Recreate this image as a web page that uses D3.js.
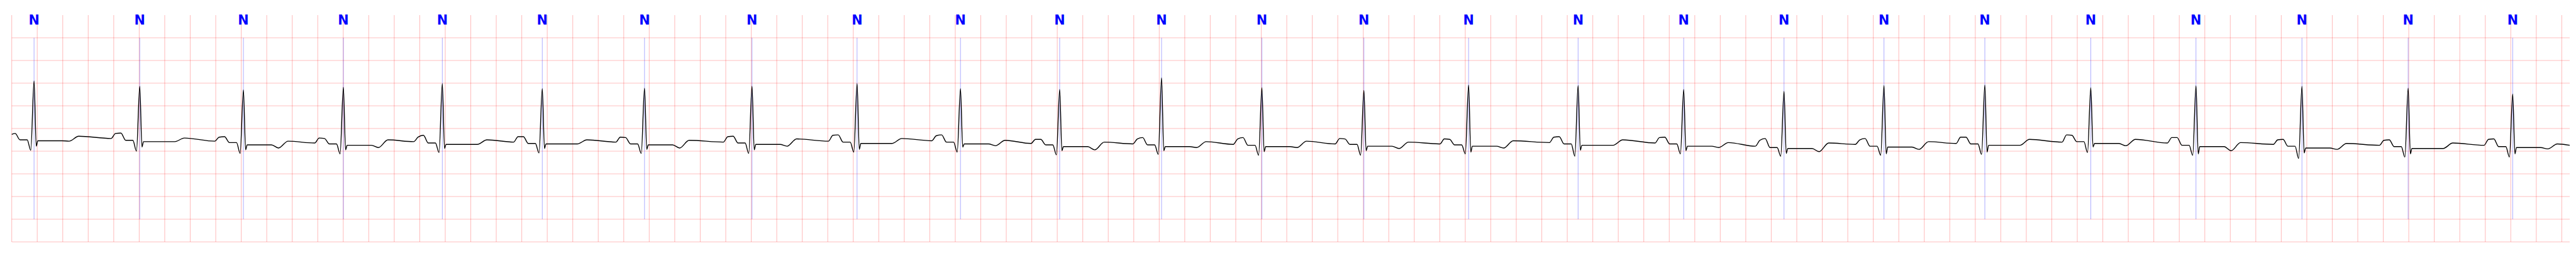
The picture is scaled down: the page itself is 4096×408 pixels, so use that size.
<!DOCTYPE html>
<html>
<head>
<meta charset="utf-8">
<script src="https://cdn.jsdelivr.net/npm/d3@7"></script>
<style>
html,body{margin:0;padding:0;background:#fff;overflow:hidden;}
svg{display:block;}
</style>
</head>
<body>
<svg id="chart" width="4096" height="408"></svg>
<script>
// ---- data (time in s, amplitude in mV) ----
const beatTimes = [0.175, 1.004, 1.817, 2.601, 3.377, 4.161, 4.963, 5.806, 6.630, 7.441, 8.219, 9.018, 9.805, 10.605, 11.426, 12.285, 13.113, 13.900, 14.684, 15.475, 16.306, 17.131, 17.962, 18.795, 19.615];
const beatLabels = Array(25).fill("N");
const rPeak   = [1.05, 0.93, 0.85, 0.91, 0.99, 0.88, 0.89, 0.93, 0.99, 0.88, 0.86, 1.12, 0.90, 0.84, 0.96, 0.95, 0.86, 0.82, 0.95, 0.96, 0.90, 0.94, 0.93, 0.89, 0.76];
const qTrough = [-0.48, -0.50, -0.55, -0.56, -0.53, -0.54, -0.55, -0.55, -0.52, -0.52, -0.58, -0.57, -0.59, -0.59, -0.56, -0.61, -0.56, -0.61, -0.59, -0.57, -0.53, -0.59, -0.66, -0.63, -0.63];
const sTrough = [-0.39, -0.41, -0.47, -0.47, -0.44, -0.44, -0.46, -0.47, -0.46, -0.41, -0.49, -0.49, -0.51, -0.49, -0.52, -0.48, -0.49, -0.55, -0.56, -0.52, -0.41, -0.56, -0.54, -0.56, -0.56];
const stLevel = [-0.27, -0.29, -0.36, -0.37, -0.35, -0.34, -0.36, -0.35, -0.33, -0.34, -0.40, -0.40, -0.40, -0.39, -0.39, -0.37, -0.39, -0.44, -0.41, -0.37, -0.33, -0.40, -0.43, -0.44, -0.42];
const preT    = [-0.28, -0.29, -0.43, -0.42, -0.35, -0.34, -0.43, -0.39, -0.33, -0.38, -0.47, -0.42, -0.42, -0.44, -0.43, -0.37, -0.42, -0.51, -0.46, -0.37, -0.38, -0.49, -0.46, -0.44, -0.45];
const tPeak   = [-0.17, -0.21, -0.28, -0.25, -0.25, -0.25, -0.26, -0.23, -0.22, -0.26, -0.30, -0.29, -0.28, -0.30, -0.27, -0.25, -0.31, -0.32, -0.29, -0.24, -0.24, -0.31, -0.33, -0.32, -0.34];
const tEnd    = [-0.22, -0.28, -0.32, -0.29, -0.30, -0.30, -0.30, -0.28, -0.27, -0.33, -0.34, -0.35, -0.34, -0.34, -0.31, -0.32, -0.39, -0.35, -0.33, -0.30, -0.32, -0.35, -0.37, -0.37, -0.37];
const pPeak   = [-0.13, -0.11, -0.19, -0.21, -0.19, -0.18, -0.19, -0.18, -0.15, -0.16, -0.24, -0.23, -0.23, -0.22, -0.23, -0.19, -0.20, -0.26, -0.25, -0.19, -0.14, -0.20, -0.25, -0.26, -0.24];
const pSpike  = [-0.11, -0.10, -0.18, -0.22, -0.15, -0.18, -0.20, -0.17, -0.14, -0.14, -0.24, -0.20, -0.20, -0.23, -0.24, -0.18, -0.19, -0.22, -0.22, -0.19, -0.15, -0.20, -0.24, -0.25, -0.23];
const prLevel = [-0.25, -0.26, -0.31, -0.34, -0.32, -0.33, -0.34, -0.32, -0.30, -0.30, -0.36, -0.36, -0.37, -0.35, -0.36, -0.34, -0.34, -0.42, -0.39, -0.34, -0.29, -0.37, -0.39, -0.40, -0.40];
// wave landmark times relative to each R peak (s)
const waveOffsets = {pOn: -0.225, pTop: -0.19, pTick: -0.148, pDown: -0.11, qrsOn: -0.054, q: -0.0255, s: 0.0174, st: 0.0295, stEnd: 0.22, dip: 0.275, tTop: 0.35};
const timeDomain = [0, 20.062];
const ampDomain = [-2.5, 2.5];
const gridTimes = d3.range(0, 20.0001, 0.2);
const gridAmps = d3.range(-2.5, 2.0001, 0.5);

// ---- build trace vertices from the landmark tables ----
const trace = [];
const o = waveOffsets;
beatTimes.forEach((R, i) => {
  if (i > 0) trace.push([R + o.pOn, tEnd[i - 1]]);
  trace.push([Math.max(timeDomain[0], R + o.pTop), pPeak[i]]);
  trace.push([R + o.pTick, pSpike[i]]);
  trace.push([R + o.pDown, prLevel[i]]);
  trace.push([R + o.qrsOn, prLevel[i]]);
  trace.push([R + o.q, qTrough[i]]);
  trace.push([R, rPeak[i]]);
  trace.push([R + o.s, sTrough[i]]);
  trace.push([R + o.st, stLevel[i]]);
  trace.push([R + o.stEnd, stLevel[i]]);
  trace.push([R + o.dip, preT[i]]);
  trace.push([R + o.tTop, tPeak[i]]);
});
trace.push([timeDomain[1], tEnd[tEnd.length - 1]]);

// ---- layout ----
const SC = 0.544;
const plotLeft = 34.3 * SC, plotRight = 7511 * SC, plotTop = 44 * SC, plotBottom = 706 * SC;
const x = d3.scaleLinear().domain(timeDomain).range([plotLeft, plotRight]);
const y = d3.scaleLinear().domain(ampDomain).range([plotBottom, plotTop]);

const svg = d3.select("#chart");

const grid = svg.append("g");
grid.selectAll("line.v").data(gridTimes).join("line").attr("class", "v")
  .attr("x1", d => x(d)).attr("x2", d => x(d))
  .attr("y1", y(ampDomain[1])).attr("y2", y(ampDomain[0]))
  .attr("stroke", "#ff0000").attr("stroke-opacity", 0.25).attr("stroke-width", 1.1);
grid.selectAll("line.h").data(gridAmps).join("line").attr("class", "h")
  .attr("x1", x(timeDomain[0])).attr("x2", x(timeDomain[1]))
  .attr("y1", d => y(d)).attr("y2", d => y(d))
  .attr("stroke", "#ff0000").attr("stroke-opacity", 0.25).attr("stroke-width", 1.1);

// annotation lines
svg.append("g").selectAll("line").data(beatTimes).join("line")
  .attr("x1", d => x(d)).attr("x2", d => x(d))
  .attr("y1", y(2.0)).attr("y2", y(-2.0))
  .attr("stroke", "#0000ff").attr("stroke-opacity", 0.55).attr("stroke-width", 0.6);

// ECG trace
const line = d3.line().x(d => x(d[0])).y(d => y(d[1])).curve(d3.curveMonotoneX);
svg.append("path").datum(trace)
  .attr("d", line).attr("fill", "none")
  .attr("stroke", "#000").attr("stroke-width", 1.4).attr("stroke-linejoin", "round");

// labels
svg.append("g").selectAll("text").data(beatTimes).join("text")
  .attr("x", d => x(d)).attr("y", 71.8 * SC)
  .attr("text-anchor", "middle")
  .attr("font-family", "DejaVu Sans, sans-serif").attr("font-weight", "bold")
  .attr("font-size", 20.7).attr("fill", "#0000ff")
  .text((d, i) => beatLabels[i]);
</script>
</body>
</html>
